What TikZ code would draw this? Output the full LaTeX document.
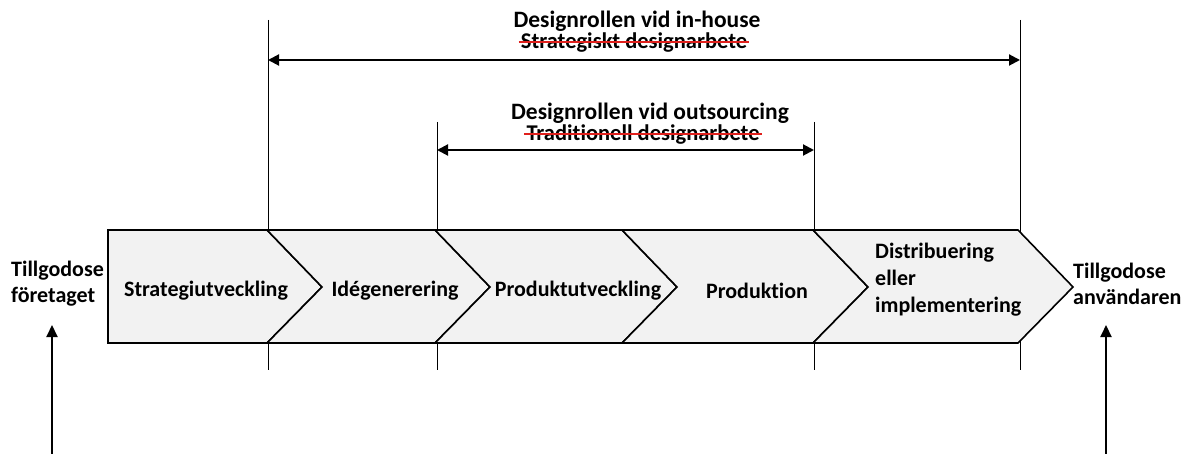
\documentclass[tikz,border=0pt]{standalone}
\usepackage{fontspec}
\setmainfont{Carlito}[RawFeature={-liga;-clig;-calt;-dlig}]
\usetikzlibrary{arrows.meta}
\definecolor{stagefill}{HTML}{F2F2F2}
\definecolor{strikered}{HTML}{E0201C}
\begin{document}
\begin{tikzpicture}[x=1pt,y=-1pt,
  stage/.style={draw=black, line width=1.6pt, fill=stagefill, line join=miter},
  lbl/.style={font=\fontsize{22}{26}\selectfont\bfseries, inner sep=1pt},
  ttl/.style={font=\fontsize{23.5}{26}\selectfont\bfseries, inner sep=1pt},
  strk/.style={font=\fontsize{22.5}{26}\selectfont\bfseries, inner sep=2pt},
  strikeline/.style={draw=strikered, line width=2pt},
  guide/.style={line width=0.9pt},
  span/.style={line width=2pt, {Triangle[length=11pt,width=11pt]}-{Triangle[length=11pt,width=11pt]}},
  up/.style={line width=2pt, -{Triangle[length=12pt,width=11pt]}}]
\useasboundingbox (0,0) rectangle (1188,454);

% guide lines
\coordinate (g1t) at (268,20);   \coordinate (g1b) at (268,370);
\coordinate (g2t) at (437,122);  \coordinate (g2b) at (437,370);
\coordinate (g3t) at (814,122);  \coordinate (g3b) at (814,370);
\coordinate (g4t) at (1020,20);  \coordinate (g4b) at (1020,370);
\draw[guide] (g1t) -- (g1b);
\draw[guide] (g2t) -- (g2b);
\draw[guide] (g3t) -- (g3b);
\draw[guide] (g4t) -- (g4b);

% spans
\coordinate (s1a) at (268,60);  \coordinate (s1b) at (1020,60);
\coordinate (s2a) at (437,150); \coordinate (s2b) at (814,150);
\draw[span] (s1a) -- (s1b);
\draw[span] (s2a) -- (s2b);

\node[ttl] (t1) at (637,21) {Designrollen vid in-house};
\node[strk] (st1) at (634,43) {Strategiskt designarbete};
\draw[strikeline] ([yshift=6.5pt]st1.base west) -- ([yshift=6.5pt]st1.base east);
\node[ttl] (t2) at (650,113) {Designrollen vid outsourcing};
\node[strk] (st2) at (643,135) {Traditionell designarbete};
\draw[strikeline] ([yshift=6.5pt]st2.base west) -- ([yshift=6.5pt]st2.base east);

% stages
\draw[stage] (108,230) -- (267,230) -- (322,287) -- (267,343) -- (108,343) -- cycle;
\draw[stage] (267,230) -- (435,230) -- (490,287) -- (435,343) -- (267,343) -- (322,287) -- cycle;
\draw[stage] (435,230) -- (622,230) -- (677,287) -- (622,343) -- (435,343) -- (490,287) -- cycle;
\draw[stage] (622,230) -- (813,230) -- (868,287) -- (813,343) -- (622,343) -- (677,287) -- cycle;
\draw[stage] (813,230) -- (1018,230) -- (1073,287) -- (1018,343) -- (813,343) -- (868,287) -- cycle;

\node[lbl] (n1) at (206,291) {Strategiutveckling};
\node[lbl] (n2) at (395,291) {Idégenerering};
\node[lbl] (n3) at (578,291) {Produktutveckling};
\node[lbl] (n4) at (757,291) {Produktion};
\node[lbl, align=left, anchor=west, font=\fontsize{22}{27}\selectfont\bfseries] (n5) at (874,280) {Distribuering\\eller\\implementering};

\node[lbl, align=left, anchor=west] (lf) at (10,284) {Tillgodose\\företaget};
\node[lbl, align=left, anchor=west] (rf) at (1072,284) {Tillgodose\\användaren};

% bottom arrows
\coordinate (la) at (52,454);   \coordinate (lt) at (52,325);
\coordinate (ra) at (1106,454); \coordinate (rt) at (1106,325);
\draw[up] (la) -- (lt);
\draw[up] (ra) -- (rt);
\end{tikzpicture}
\end{document}
